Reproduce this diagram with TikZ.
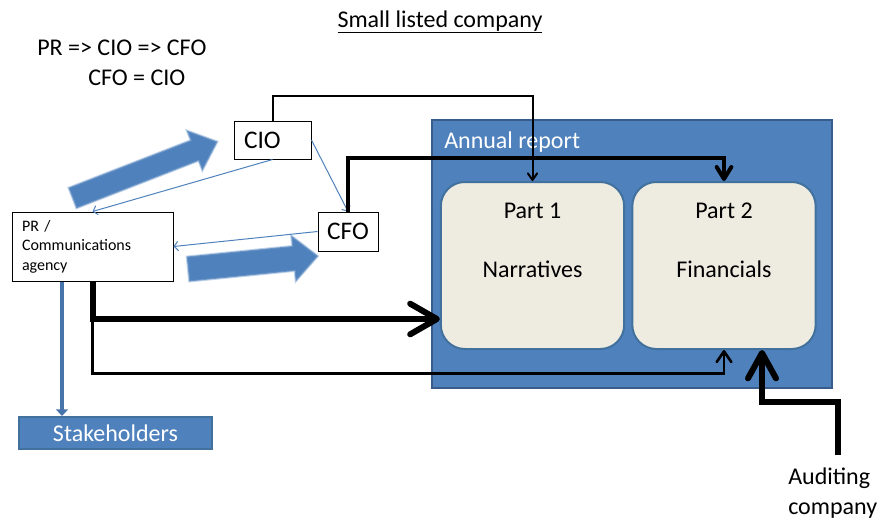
\documentclass[tikz,border=0pt]{standalone}
\usepackage{fontspec}
\setmainfont{Carlito}
\usetikzlibrary{arrows.meta,calc}
\definecolor{reportblue}{HTML}{4F81BD}
\definecolor{edgeblue}{HTML}{385D8A}
\definecolor{partfill}{HTML}{EEECE1}
\definecolor{partedge}{HTML}{41719C}

\begin{document}
\begin{tikzpicture}[x=0.75pt, y=-0.75pt,
	bigtext/.style={inner sep=0pt, font=\fontsize{18}{22}\selectfont},
	person/.style={draw=black, line width=0.75pt, fill=white, inner sep=0pt, font=\fontsize{19}{23}\selectfont},
	part/.style={draw=partedge, line width=1.5pt, fill=partfill, rounded corners=18pt, minimum width=137.5pt, minimum height=125.25pt},
	infolink/.style={draw=reportblue, line width=0.75pt, -{Straight Barb[length=3pt,width=7pt]}},
	bigarrow/.style={fill=reportblue, draw=reportblue!70, draw opacity=0.5, line width=1.5pt}]
			\useasboundingbox (0,0) rectangle (882,519);

			% Title and notes
			\node[bigtext, anchor=base] (title) at (440,27) {\underline{Small listed company}};
			\node[bigtext, anchor=base west] (chain) at (37,55) {PR => CIO => CFO};
			\node[bigtext, anchor=base west] (same) at (88,85) {CFO = CIO};

			% Annual report with its two parts
			\node[draw=edgeblue, line width=1.5pt, fill=reportblue, minimum width=300pt, minimum height=201pt] (report) at (632,254) {};
			\node[bigtext, anchor=base west, text=white] (reptitle) at (444,148) {Annual report};
			\node[part] (p1) at (532.5,265.5) {};
			\node[part] (p2) at (724,265.5) {};
			\node[bigtext, anchor=base] (p1a) at (532.5,218) {Part 1};
			\node[bigtext, anchor=base] (p1b) at (532.5,277) {Narratives};
			\node[bigtext, anchor=base] (p2a) at (724,218) {Part 2};
			\node[bigtext, anchor=base] (p2b) at (724,277) {Financials};

			% People and agency
			\node[person, minimum width=57.75pt, minimum height=28.5pt, text width=42.75pt, inner xsep=7.5pt, align=left] (cio) at (272.5,140) {CIO};
			\node[person, minimum width=45pt, minimum height=29.25pt] (cfo) at (348,231.5) {CFO};
			\node[person, minimum width=120.75pt, minimum height=51.75pt, text width=105.75pt, inner xsep=7.5pt, align=left,
				font=\fontsize{12}{14.5}\selectfont] (pr) at (92.5,246.5) {PR /\\Communications\\agency};
			\node[draw=partedge, line width=1.5pt, fill=reportblue, text=white, minimum width=144.75pt, minimum height=24pt,
				font=\fontsize{18}{21}\selectfont] (stake) at (115.5,433) {Stakeholders};
			\node[bigtext, anchor=north west, align=left] (audit) at (788,468) {Auditing\\company};

			% Block arrows from the agency
			\begin{scope}[shift={(72.5,198)}, rotate=21.25]
			\filldraw[bigarrow] (0,-11) -- (131,-11) -- (131,-21.5) -- (155.5,0) -- (131,21.5) -- (131,11) -- (0,11) -- cycle;
			\end{scope}
			\begin{scope}[shift={(188,269)}, rotate=5.7]
			\filldraw[bigarrow] (0,-12.5) -- (106,-12.5) -- (106,-23) -- (130.6,0) -- (106,23) -- (106,12.5) -- (0,12.5) -- cycle;
			\end{scope}

			% Thin blue links
			\foreach \a/\b in {cio.south/pr.north, cio.east/cfo.north, cfo.west/pr.east}
			\draw[infolink] (\a) -- (\b);

			% Agency to stakeholders
			\coordinate (feed) at ($(pr.south)+(-30.5,0)$);
			\draw[draw=reportblue!90!black, line width=3pt, -{Triangle[length=5pt,width=9pt]}] (feed) -- (feed |- stake.north);

			% Black flows into the report
			\draw[line width=1.5pt, -{Straight Barb[round,length=5pt,width=7pt]}] (cio.north) -- ++(0,-25) -| (p1.north);
			\draw[line width=3pt, -{Straight Barb[round,length=9pt,width=11pt]}] (cfo.north) -- ++(0,-54) -| (p2.north);
			\draw[line width=4.5pt, -{Straight Barb[round,length=20pt,width=23pt]}] (pr.south) |- ($(p1.west)+(0,53.5)$);
			\draw[line width=2pt, -{Straight Barb[round,length=8pt,width=11pt]}] (pr.south) -- ++(0,92) -| (p2.south);
			\coordinate (auditfoot) at (838,455);
			\draw[line width=4.5pt, -{Straight Barb[round,length=19pt,width=21pt]}] (auditfoot) -- ++(0,-53) -| ($(p2.south)+(38,0)$);
		\end{tikzpicture}
\end{document}
